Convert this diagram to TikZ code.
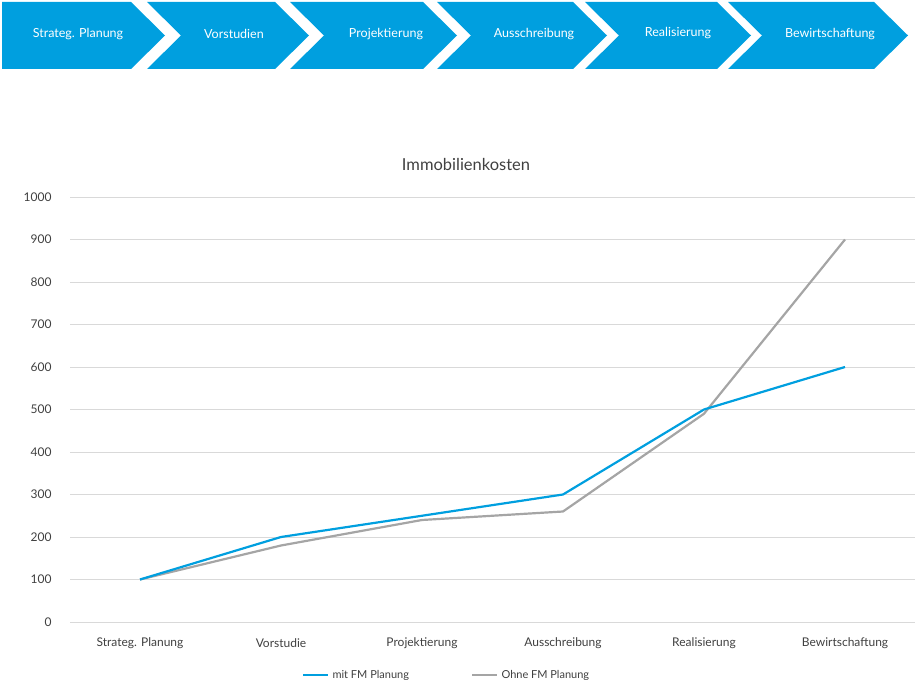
\documentclass[tikz,border=0pt]{standalone}
\usepackage{fontspec}
\setmainfont{Lato}
\definecolor{cblue}{HTML}{009FDF}
\definecolor{cgray}{HTML}{A5A5A5}
\definecolor{grid}{HTML}{D9D9D9}
\definecolor{txt}{HTML}{404040}
\begin{document}
\begin{tikzpicture}[x=1pt,y=-1pt,
  chev/.style={fill=cblue,draw=none},
  chevtxt/.style={text=white,font=\fontsize{12.5}{14}\selectfont},
  ax/.style={text=txt,font=\fontsize{12}{14}\selectfont},
  ser/.style={line width=2.2pt,line join=round}]
\useasboundingbox (0,0) rectangle (921,692);
% chevrons
\fill[chev] (2,2) -- (131,2) -- (165,35.5) -- (131,69) -- (2,69) -- cycle;
\foreach \L/\R in {147/275,290/423,437/573,585/717,728/874}{
  \fill[chev] (\L,2) -- (\R,2) -- (\R+34,35.5) -- (\R,69) -- (\L,69) -- (\L+34,35.5) -- cycle;}
\node[chevtxt] (c1) at (78,34) {Strateg. Planung};
\node[chevtxt] (c2) at (234,34) {Vorstudien};
\node[chevtxt] (c3) at (386,34) {Projektierung};
\node[chevtxt] (c4) at (534,34) {Ausschreibung};
\node[chevtxt] (c5) at (678,33) {Realisierung};
\node[chevtxt] (c6) at (830,34) {Bewirtschaftung};
% title
\node[text=txt,font=\fontsize{16.5}{18}\selectfont] (title) at (466,164) {Immobilienkosten};
% grid
\foreach \v in {0,100,...,1000}{
  \draw[grid,line width=0.7pt] (70,622-\v*0.425) -- (915,622-\v*0.425);
  \node[ax,anchor=east] at (55,622-\v*0.425) {\v};}
% categories
\foreach \x/\t in {140/Strateg. Planung,281/Vorstudie,422/Projektierung,563/Ausschreibung,704/Realisierung,845/Bewirtschaftung}
  \node[ax] at (\x,643) {\t};
% series
\draw[ser,cgray] (140,622-100*0.425) -- (281,622-180*0.425) -- (422,622-240*0.425) -- (563,622-260*0.425) -- (704,622-490*0.425) -- (845,622-900*0.425);
\draw[ser,cblue] (140,622-100*0.425) -- (281,622-200*0.425) -- (422,622-250*0.425) -- (563,622-300*0.425) -- (704,622-500*0.425) -- (845,622-600*0.425);
% legend
\draw[ser,cblue] (303,675) -- (328,675);
\node[ax,anchor=west,font=\fontsize{11}{13}\selectfont] (l1) at (329,675) {mit FM Planung};
\draw[ser,cgray] (472,675) -- (497,675);
\node[ax,anchor=west,font=\fontsize{11}{13}\selectfont] (l2) at (498,675) {Ohne FM Planung};
\end{tikzpicture}
\end{document}
